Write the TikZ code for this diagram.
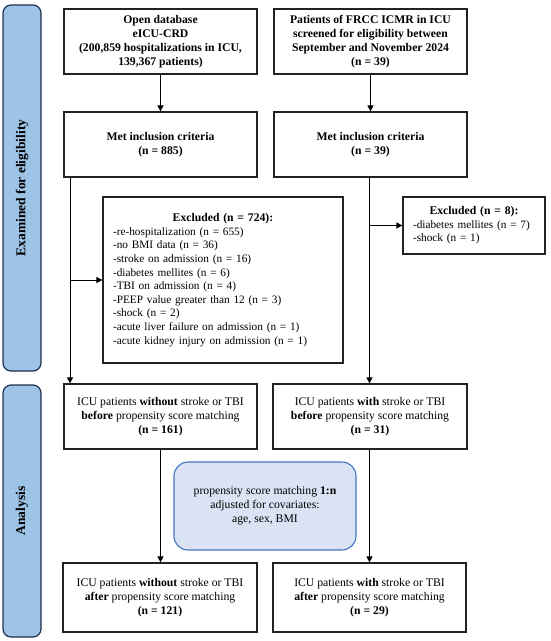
\documentclass[tikz,border=0pt]{standalone}
\usepackage{fontspec}
\setmainfont{Liberation Serif}
\usetikzlibrary{arrows.meta}
\definecolor{panelfill}{HTML}{9DC3E6}
\definecolor{panelline}{HTML}{1F2F4F}
\definecolor{psmfill}{HTML}{DAE3F3}
\definecolor{psmline}{HTML}{4472C4}
\definecolor{boxline}{HTML}{222222}
\begin{document}
\begin{tikzpicture}[x=1pt,y=-1pt,
  font=\fontsize{11.7}{14}\selectfont,
  box/.style={draw=boxline,line width=1.2pt,fill=white,align=center,inner sep=2pt,
    minimum width=#1,minimum height=65pt},
  box/.default=193pt,
  exbox/.style={draw=boxline,line width=1.2pt,fill=white,align=left,inner xsep=10pt,inner ysep=2pt,
    font=\fontsize{11.3}{13.6}\selectfont},
  panel/.style={draw=panelline,line width=1.2pt,fill=panelfill,rounded corners=8pt},
  psm/.style={draw=psmline,line width=1.1pt,fill=psmfill,rounded corners=14pt,align=center,
    minimum width=182pt,minimum height=88pt},
  arr/.style={line width=1pt,draw=black,-{Triangle[length=6pt,width=6pt]}},
  sidelab/.style={rotate=90,font=\fontsize{13.5}{15}\selectfont\bfseries}]
\useasboundingbox (0,0) rectangle (550,641);
% side panels
\draw[panel] (3,5) rectangle (41,371);
\node[sidelab] (lab1) at (22,188) {Examined for eligibility};
\draw[panel] (3,385) rectangle (41,637);
\node[sidelab] (lab2) at (22,511) {Analysis};
% top boxes
\node[box] (src1) at (160.5,41.5) {\textbf{Open database}\\\textbf{eICU-CRD}\\\textbf{(200,859 hospitalizations in ICU,}\\\textbf{139,367 patients)}};
\node[box] (src2) at (370.5,41.5) {\textbf{Patients of FRCC ICMR in ICU}\\\textbf{screened for eligibility between}\\\textbf{September and November 2024}\\\textbf{(n = 39)}};
\node[box] (metL) at (160.5,144.5) {\textbf{Met inclusion criteria}\\\textbf{(n = 885)}};
\node[box] (metR) at (370.5,144.5) {\textbf{Met inclusion criteria}\\\textbf{(n = 39)}};
% exclusions
\node[exbox,text width=220pt,minimum height=166pt] (exL) at (223,280) {\makebox[220pt][c]{\fontsize{11.7}{13.6}\selectfont\textbf{Excluded (n = 724):}}\\
-re-hospitalization (n = 655)\\
-no BMI data (n = 36)\\
-stroke on admission (n = 16)\\
-diabetes mellites (n = 6)\\
-TBI on admission (n = 4)\\
-PEEP value greater than 12 (n = 3)\\
-shock (n = 2)\\
-acute liver failure on admission (n = 1)\\
-acute kidney injury on admission (n = 1)};
\node[exbox,text width=122pt,minimum height=57pt] (exR) at (474,225.5) {\makebox[122pt][c]{\fontsize{11.7}{13.6}\selectfont\textbf{Excluded (n = 8):}}\\
-diabetes mellites (n = 7)\\
-shock (n = 1)};
% analysis boxes
\node[box] (befL) at (160.5,416.5) {ICU patients \textbf{without} stroke or TBI\\\textbf{before} propensity score matching\\\textbf{(n = 161)}};
\node[box=194pt] (befR) at (370,416.5) {ICU patients \textbf{with} stroke or TBI\\\textbf{before} propensity score matching\\\textbf{(n = 31)}};
\node[psm] (psm) at (265,506) {propensity score matching \textbf{1:n}\\adjusted for covariates:\\age, sex, BMI};
\node[box=194pt,minimum height=69pt] (aftL) at (160,597.5) {ICU patients \textbf{without} stroke or TBI\\\textbf{after} propensity score matching\\\textbf{(n = 121)}};
\node[box,minimum height=69pt] (aftR) at (369.5,597.5) {ICU patients \textbf{with} stroke or TBI\\\textbf{after} propensity score matching\\\textbf{(n = 29)}};
% connectors
\draw[arr] (src1) -- (metL);
\draw[arr] (src2) -- (metR);
\coordinate (lTop) at (metL.south -| 70,0);
\coordinate (lBot) at (befL.north -| 70,0);
\coordinate (lMid) at (70,280);
\draw[arr] (lTop) -- (lBot);
\draw[arr] (lMid) -- (exL.west |- lMid);
\coordinate (rTop) at (369.5,177);
\coordinate (rBot) at (befR.north -| rTop);
\coordinate (rMid) at (369.5,225.5);
\draw[arr] (rTop) -- (rBot);
\draw[arr] (rMid) -- (exR.west);
\draw[arr] (befL) -- (aftL.north -| befL.south);
\draw[arr] (befR.south -| rTop) -- (aftR.north -| rTop);
\end{tikzpicture}
\end{document}
